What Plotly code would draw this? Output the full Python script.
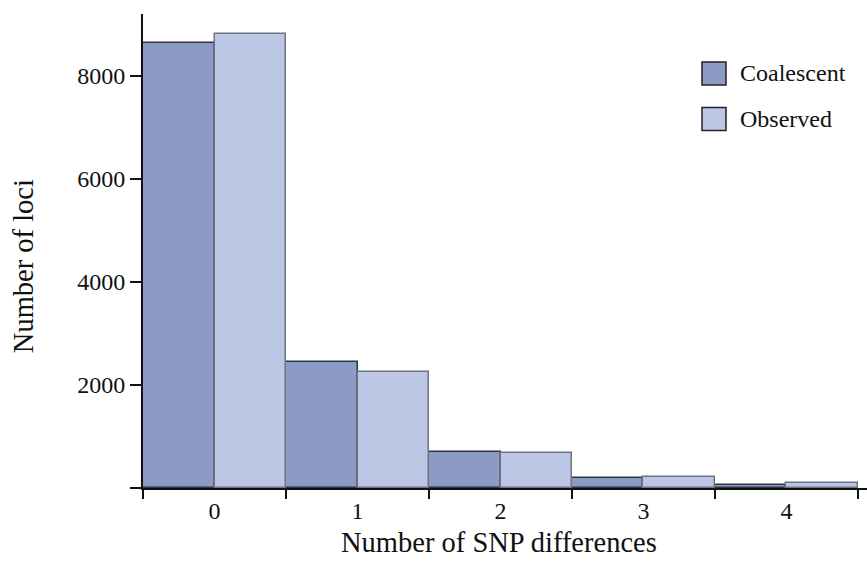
import plotly.graph_objects as go

categories = [0, 1, 2, 3, 4]
coalescent = [8650, 2450, 700, 195, 50]
observed = [8810, 2260, 675, 215, 100]
y_ticks = [2000, 4000, 6000, 8000]
series_names = ["Coalescent", "Observed"]

FONT = "Liberation Serif, Times New Roman, serif"
C_FILL, C_LINE = "#8b9bc3", "#2f3545"
O_FILL, O_LINE = "#bcc7e5", "#6e7381"

fig = go.Figure()
fig.add_trace(go.Bar(x=categories, y=coalescent, name=series_names[0],
                     marker=dict(color=C_FILL, line=dict(color=C_LINE, width=1.5)),
                     showlegend=False))
fig.add_trace(go.Bar(x=categories, y=observed, name=series_names[1],
                     marker=dict(color=O_FILL, line=dict(color=O_LINE, width=1.5)),
                     showlegend=False))

boundaries = [c - 0.5 for c in categories] + [categories[-1] + 0.5]

fig.update_layout(
    width=867, height=564,
    margin=dict(l=143, r=0, t=14, b=76),
    barmode="group", bargap=0, bargroupgap=0,
    plot_bgcolor="white", paper_bgcolor="white",
    font=dict(family=FONT, size=24, color="#111111"),
    xaxis=dict(range=[-0.5, 4.563], tickvals=categories, ticktext=[str(c) for c in categories],
               ticks="", showline=True, linecolor="#111111", linewidth=2,
               showgrid=False, zeroline=False, tickfont=dict(size=24),
               minor=dict(tickvals=boundaries, ticks="outside", ticklen=9,
                          tickwidth=2, tickcolor="#111111", showgrid=False)),
    yaxis=dict(range=[0, 9204], tickvals=[0] + y_ticks, ticktext=[""] + [str(v) for v in y_ticks],
               ticks="outside", ticklen=11, tickwidth=2, tickcolor="#111111",
               showline=True, linecolor="#111111", linewidth=2,
               showgrid=False, zeroline=False, tickfont=dict(size=24)),
)

# axis titles
fig.add_annotation(text="Number of SNP differences", xref="paper", yref="paper",
                   x=0.4924, y=-0.114, showarrow=False, font=dict(size=28.5),
                   xanchor="center", yanchor="middle")
fig.add_annotation(text="Number of loci", xref="paper", yref="paper",
                   x=-0.1657, y=0.468, showarrow=False, font=dict(size=28.5),
                   textangle=-90, xanchor="center", yanchor="middle")

# legend
legend_items = [(series_names[0], C_FILL, C_LINE, 73.5), (series_names[1], O_FILL, O_LINE, 119)]
for name, fill, line, ypx in legend_items:
    y0 = (488 - (ypx + 11.5)) / 474
    y1 = (488 - (ypx - 11.5)) / 474
    fig.add_shape(type="rect", xref="paper", yref="paper",
                  x0=(702 - 143) / 724, x1=(726 - 143) / 724, y0=y0, y1=y1,
                  fillcolor=fill, line=dict(color="#222222", width=1.5))
    fig.add_annotation(text=name, xref="paper", yref="paper",
                       x=(738 - 143) / 724, y=(488 - ypx) / 474, showarrow=False,
                       xanchor="left", yanchor="middle", font=dict(size=24))

fig.write_html("out.html", config={"displayModeBar": False},
               post_script="document.body.style.margin='0';")
